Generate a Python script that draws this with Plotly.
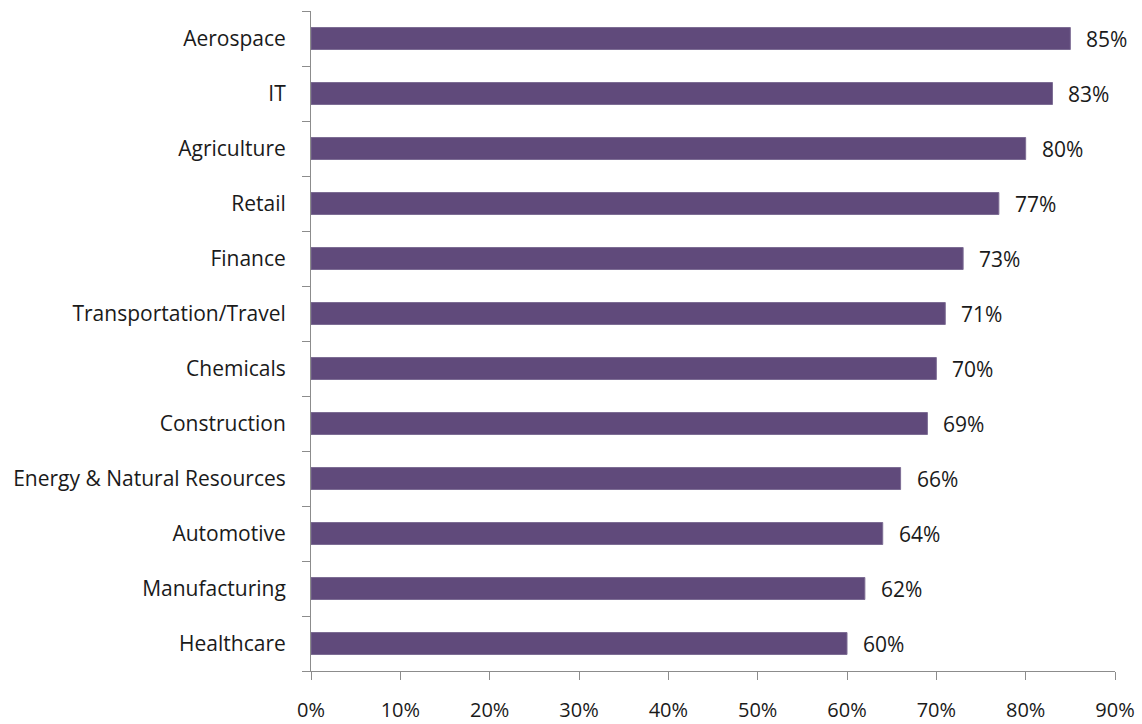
import plotly.graph_objects as go

industries = ["Aerospace", "IT", "Agriculture", "Retail", "Finance",
              "Transportation/Travel", "Chemicals", "Construction",
              "Energy & Natural Resources", "Automotive", "Manufacturing",
              "Healthcare"]
shares = [85, 83, 80, 77, 73, 71, 70, 69, 66, 64, 62, 60]
x_ticks = [0, 10, 20, 30, 40, 50, 60, 70, 80, 90]
x_tick_labels = [f"{v}%" for v in x_ticks]

FONT = "Open Sans"
TEXT = "#1a1a1a"
AXIS = "#8c8c8c"

fig = go.Figure(go.Bar(
    x=shares, y=industries, orientation="h",
    marker=dict(color="#604a7b", line=dict(color="#7d6d94", width=1)),
    hoverinfo="skip",
))

for name, val in zip(industries, shares):
    fig.add_annotation(x=val, y=name, text=f"{val}%", showarrow=False,
                       xanchor="left", xshift=14,
                       font=dict(family=FONT, size=21, color=TEXT))

fig.update_layout(
    width=1142, height=724,
    margin=dict(l=311, r=27, t=11, b=53),
    paper_bgcolor="white", plot_bgcolor="white",
    bargap=0.6, showlegend=False,
    font=dict(family=FONT, size=21, color=TEXT),
)
fig.update_xaxes(
    range=[0, 90], tickvals=x_ticks, ticktext=x_tick_labels,
    showgrid=False, zeroline=False, automargin=False,
    showline=True, linecolor=AXIS, linewidth=1,
    ticks="outside", ticklen=8, tickcolor=AXIS,
    ticklabelstandoff=13, tickfont=dict(size=20),
)
fig.update_yaxes(
    categoryorder="array", categoryarray=industries[::-1],
    showgrid=False, zeroline=False, automargin=False,
    showline=True, linecolor=AXIS, linewidth=1,
    ticks="outside", ticklen=8, tickcolor=AXIS, tickson="boundaries",
    ticklabelstandoff=20,
)

fig.write_html("out.html")
